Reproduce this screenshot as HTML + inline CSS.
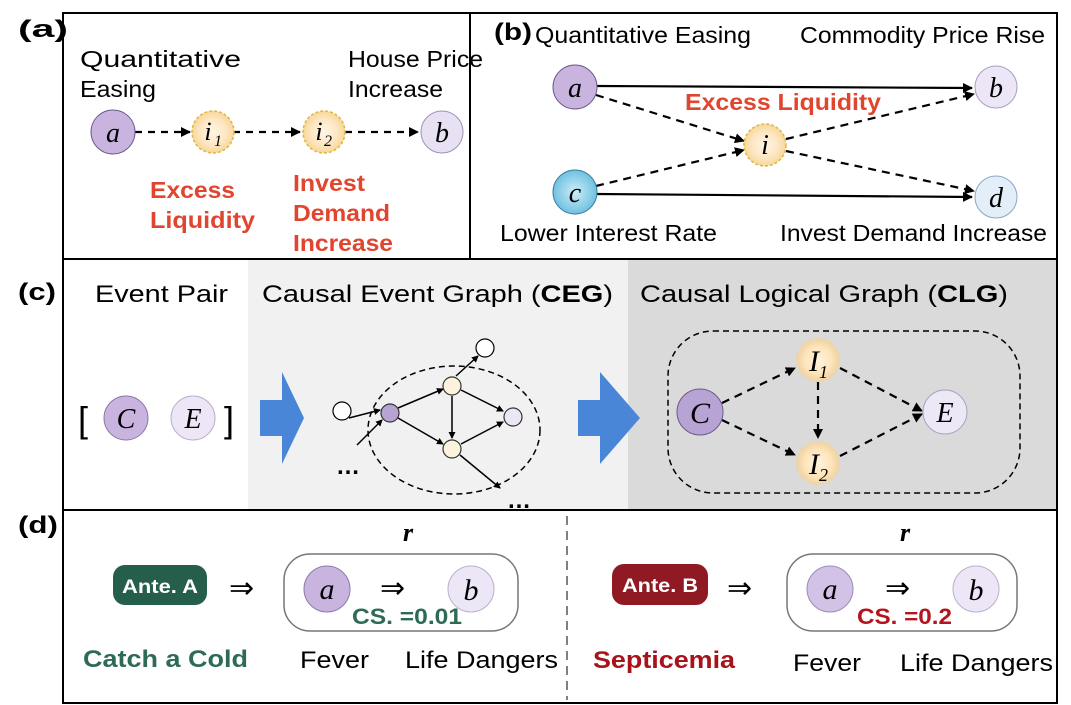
<!DOCTYPE html>
<html><head><meta charset="utf-8"><style>
html,body{margin:0;padding:0;background:#fff;}
svg{display:block;font-family:"Liberation Sans",sans-serif;}
.s{font-family:"Liberation Serif",serif;font-style:italic;}
</style></head><body>
<svg width="1071" height="705" viewBox="0 0 1071 705" xmlns="http://www.w3.org/2000/svg">
<defs>
<marker id="ah" markerWidth="10" markerHeight="10" refX="9" refY="5" orient="auto" markerUnits="userSpaceOnUse"><path d="M0,0 L10,5 L0,10 z" fill="#000"/></marker>
<marker id="sh" markerWidth="7" markerHeight="7" refX="6" refY="3.5" orient="auto" markerUnits="userSpaceOnUse"><path d="M0,0 L7,3.5 L0,7 z" fill="#000"/></marker>
<radialGradient id="gy"><stop offset="0" stop-color="#fff6e6"/><stop offset="0.6" stop-color="#fde7c4"/><stop offset="1" stop-color="#f7d79a"/></radialGradient>
<radialGradient id="gI"><stop offset="0" stop-color="#fff3df"/><stop offset="0.65" stop-color="#fde3b8"/><stop offset="1" stop-color="#f8cf8a" stop-opacity="0.6"/></radialGradient>
<radialGradient id="gb"><stop offset="0" stop-color="#cdeef8"/><stop offset="1" stop-color="#6fc1e0"/></radialGradient>
</defs>
<rect x="248" y="260" width="380" height="250" fill="#f1f1f1"/>
<rect x="628" y="260" width="429" height="250" fill="#dadada"/>
<rect x="63" y="13" width="994" height="690" fill="none" stroke="#000" stroke-width="2"/>
<line x1="470" y1="13" x2="470" y2="259" stroke="#000" stroke-width="2"/>
<line x1="63" y1="259" x2="1057" y2="259" stroke="#000" stroke-width="2"/>
<line x1="63" y1="510" x2="1057" y2="510" stroke="#000" stroke-width="2"/>

<g lengthAdjust="spacingAndGlyphs">
<!-- (a) -->
<text x="18" y="37" font-size="24" font-weight="bold" textLength="50" lengthAdjust="spacingAndGlyphs">(a)</text>
<text x="80" y="67" font-size="23" textLength="161" lengthAdjust="spacingAndGlyphs">Quantitative</text>
<text x="80" y="97" font-size="23" textLength="76" lengthAdjust="spacingAndGlyphs">Easing</text>
<text x="348" y="67" font-size="23" textLength="135" lengthAdjust="spacingAndGlyphs">House Price</text>
<text x="348" y="97" font-size="23" textLength="95" lengthAdjust="spacingAndGlyphs">Increase</text>
<g fill="#e2452f" font-weight="bold" font-size="23">
<text x="150" y="198" textLength="85" lengthAdjust="spacingAndGlyphs">Excess</text>
<text x="150" y="228" textLength="105" lengthAdjust="spacingAndGlyphs">Liquidity</text>
<text x="293" y="191" textLength="72" lengthAdjust="spacingAndGlyphs">Invest</text>
<text x="293" y="221" textLength="97" lengthAdjust="spacingAndGlyphs">Demand</text>
<text x="293" y="251" textLength="100" lengthAdjust="spacingAndGlyphs">Increase</text>
</g>
</g>
<g stroke="#000" stroke-width="2.2" stroke-dasharray="7,6" marker-end="url(#ah)">
<line x1="135" y1="132" x2="190" y2="132"/>
<line x1="233" y1="132" x2="300" y2="132"/>
<line x1="345" y1="132" x2="418" y2="132"/>
</g>
<circle cx="113" cy="132" r="22" fill="#c9b4e0" stroke="#6b5a8a" stroke-width="1"/>
<text x="113" y="142" font-size="28" text-anchor="middle" class="s">a</text>
<circle cx="213" cy="132" r="21" fill="url(#gy)" stroke="#e0b640" stroke-width="1.5" stroke-dasharray="3,2"/>
<text x="208" y="140" font-size="26" class="s" text-anchor="middle">i</text><text x="214" y="146" font-size="16" class="s">1</text>
<circle cx="324" cy="132" r="21" fill="url(#gy)" stroke="#e0b640" stroke-width="1.5" stroke-dasharray="3,2"/>
<text x="319" y="140" font-size="26" class="s" text-anchor="middle">i</text><text x="324" y="146" font-size="16" class="s">2</text>
<circle cx="442" cy="132" r="21" fill="#e8e1f4" stroke="#9c93b8" stroke-width="1"/>
<text x="442" y="142" font-size="28" class="s" text-anchor="middle">b</text>

<!-- (b) -->
<text x="494" y="40" font-size="24" font-weight="bold" textLength="38" lengthAdjust="spacingAndGlyphs">(b)</text>
<text x="535" y="43" font-size="23" textLength="216" lengthAdjust="spacingAndGlyphs">Quantitative Easing</text>
<text x="800" y="43" font-size="23" textLength="245" lengthAdjust="spacingAndGlyphs">Commodity Price Rise</text>
<text x="500" y="241" font-size="23" textLength="217" lengthAdjust="spacingAndGlyphs">Lower Interest Rate</text>
<text x="780" y="241" font-size="23" textLength="267" lengthAdjust="spacingAndGlyphs">Invest Demand Increase</text>
<g stroke="#000" stroke-width="2.2" marker-end="url(#ah)">
<line x1="597" y1="86" x2="972" y2="88"/>
<line x1="597" y1="194" x2="972" y2="197"/>
</g>
<g stroke="#000" stroke-width="2.2" stroke-dasharray="8,6" marker-end="url(#ah)">
<line x1="596" y1="95" x2="744" y2="141"/>
<line x1="596" y1="186" x2="744" y2="150"/>
<line x1="786" y1="139" x2="974" y2="94"/>
<line x1="786" y1="151" x2="974" y2="191"/>
</g>
<circle cx="575" cy="87" r="22" fill="#c9b4e0" stroke="#6b5a8a"/>
<text x="575" y="97" font-size="28" class="s" text-anchor="middle">a</text>
<circle cx="575" cy="192" r="22" fill="url(#gb)" stroke="#3a7fa0"/>
<text x="575" y="202" font-size="28" class="s" text-anchor="middle">c</text>
<circle cx="765" cy="145" r="21" fill="url(#gy)" stroke="#e0b640" stroke-width="1.5" stroke-dasharray="3,2"/>
<text x="765" y="154" font-size="28" class="s" text-anchor="middle">i</text>
<circle cx="996" cy="87" r="21" fill="#ece6f6" stroke="#a8a0c2"/>
<text x="996" y="97" font-size="28" class="s" text-anchor="middle">b</text>
<circle cx="996" cy="197" r="21" fill="#e4eef8" stroke="#8aa8c8"/>
<text x="996" y="207" font-size="28" class="s" text-anchor="middle">d</text>
<text x="685" y="110" font-size="23" font-weight="bold" fill="#e2452f" textLength="196" lengthAdjust="spacingAndGlyphs">Excess Liquidity</text>

<!-- (c) -->
<text x="18" y="300" font-size="24" font-weight="bold" textLength="38" lengthAdjust="spacingAndGlyphs">(c)</text>
<text x="95" y="302" font-size="24" textLength="133" lengthAdjust="spacingAndGlyphs">Event Pair</text>
<text x="262" y="302" font-size="24" textLength="351" lengthAdjust="spacingAndGlyphs">Causal Event Graph (<tspan font-weight="bold">CEG</tspan>)</text>
<text x="640" y="302" font-size="24" textLength="368" lengthAdjust="spacingAndGlyphs">Causal Logical Graph (<tspan font-weight="bold">CLG</tspan>)</text>
<text x="78" y="432" font-size="36">[</text>
<text x="224" y="432" font-size="36">]</text>
<circle cx="126" cy="418" r="22" fill="#c9b4e0" stroke="#8b7aa8"/>
<text x="126" y="428" font-size="28" class="s" text-anchor="middle">C</text>
<circle cx="193" cy="418" r="22" fill="#ece6f6" stroke="#b8b0cc"/>
<text x="193" y="428" font-size="28" class="s" text-anchor="middle">E</text>
<polygon points="260,400 282,400 282,372 304,418 282,464 282,436 260,436" fill="#4a86d8"/>
<polygon points="578,400 600,400 600,372 640,418 600,464 600,436 578,436" fill="#4a86d8"/>
<ellipse cx="454" cy="430" rx="86" ry="64" fill="none" stroke="#000" stroke-width="1.5" stroke-dasharray="6,4"/>
<g stroke="#000" stroke-width="1.5" marker-end="url(#sh)">
<line x1="349" y1="418" x2="380" y2="410"/>
<line x1="357" y1="445" x2="382" y2="420"/>
<line x1="398" y1="408" x2="443" y2="389"/>
<line x1="398" y1="418" x2="443" y2="444"/>
<line x1="452" y1="396" x2="452" y2="438"/>
<line x1="461" y1="390" x2="503" y2="411"/>
<line x1="461" y1="444" x2="503" y2="422"/>
<line x1="456" y1="376" x2="478" y2="356"/>
<line x1="460" y1="455" x2="500" y2="488"/>
</g>
<circle cx="342" cy="411" r="9" fill="#fff" stroke="#000" stroke-width="1.2"/>
<circle cx="485" cy="348" r="9" fill="#fff" stroke="#000" stroke-width="1.2"/>
<circle cx="390" cy="413" r="9" fill="#b8a4d4" stroke="#333" stroke-width="1.2"/>
<circle cx="452" cy="386" r="9" fill="#fbf3dc" stroke="#333" stroke-width="1.2"/>
<circle cx="452" cy="449" r="9" fill="#fbf3dc" stroke="#333" stroke-width="1.2"/>
<circle cx="513" cy="417" r="9" fill="#ece6f6" stroke="#333" stroke-width="1.2"/>
<text x="336" y="474" font-size="24" font-weight="bold">…</text>
<text x="507" y="508" font-size="24" font-weight="bold">…</text>
<rect x="668" y="331" width="352" height="162" rx="45" fill="none" stroke="#000" stroke-width="1.5" stroke-dasharray="6,4"/>
<g stroke="#000" stroke-width="2.2" stroke-dasharray="8,6" marker-end="url(#ah)">
<line x1="722" y1="403" x2="795" y2="368"/>
<line x1="722" y1="420" x2="795" y2="455"/>
<line x1="818" y1="382" x2="818" y2="438"/>
<line x1="840" y1="368" x2="922" y2="411"/>
<line x1="840" y1="456" x2="922" y2="414"/>
</g>
<circle cx="700" cy="412" r="23" fill="#b8a4d4" stroke="#6b5a8a"/>
<text x="700" y="423" font-size="30" class="s" text-anchor="middle">C</text>
<circle cx="818" cy="360" r="22" fill="url(#gI)"/>
<text x="814" y="371" font-size="30" class="s" text-anchor="middle">I</text><text x="819" y="378" font-size="18" class="s">1</text>
<circle cx="818" cy="463" r="22" fill="url(#gI)"/>
<text x="814" y="474" font-size="30" class="s" text-anchor="middle">I</text><text x="819" y="481" font-size="18" class="s">2</text>
<circle cx="945" cy="412" r="22" fill="#ede8f6" stroke="#aaa2c2"/>
<text x="945" y="422" font-size="28" class="s" text-anchor="middle">E</text>

<!-- (d) -->
<text x="18" y="533" font-size="24" font-weight="bold" textLength="40" lengthAdjust="spacingAndGlyphs">(d)</text>
<line x1="567" y1="516" x2="567" y2="700" stroke="#808080" stroke-width="2" stroke-dasharray="9,6"/>
<text x="408" y="541" font-size="26" font-weight="bold" class="s" text-anchor="middle">r</text>
<text x="905" y="541" font-size="26" font-weight="bold" class="s" text-anchor="middle">r</text>
<rect x="113" y="565" width="94" height="40" rx="12" fill="#255e4b"/>
<text x="122" y="593" font-size="19" font-weight="bold" fill="#fff" textLength="76" lengthAdjust="spacingAndGlyphs">Ante. A</text>
<rect x="612" y="564" width="96" height="41" rx="12" fill="#8f1a23"/>
<text x="622" y="592" font-size="19" font-weight="bold" fill="#fff" textLength="76" lengthAdjust="spacingAndGlyphs">Ante. B</text>
<text x="229" y="598" font-size="30">⇒</text>
<text x="727" y="598" font-size="30">⇒</text>
<rect x="284" y="554" width="234" height="77" rx="26" fill="none" stroke="#777" stroke-width="1.5"/>
<rect x="787" y="554" width="230" height="77" rx="26" fill="none" stroke="#777" stroke-width="1.5"/>
<circle cx="327" cy="589" r="23" fill="#c9b4e0" stroke="#8b7aa8"/>
<text x="327" y="599" font-size="30" class="s" text-anchor="middle">a</text>
<circle cx="471" cy="589" r="23" fill="#ece6f6" stroke="#b8b0cc"/>
<text x="471" y="600" font-size="30" class="s" text-anchor="middle">b</text>
<text x="380" y="598" font-size="30">⇒</text>
<circle cx="830" cy="589" r="23" fill="#d2c2e6" stroke="#9c8cb8"/>
<text x="830" y="599" font-size="30" class="s" text-anchor="middle">a</text>
<circle cx="976" cy="589" r="23" fill="#ece6f6" stroke="#b8b0cc"/>
<text x="976" y="600" font-size="30" class="s" text-anchor="middle">b</text>
<text x="885" y="598" font-size="30">⇒</text>
<text x="352" y="624" font-size="22" font-weight="bold" fill="#2d6b54" textLength="110" lengthAdjust="spacingAndGlyphs">CS. =0.01</text>
<text x="857" y="624" font-size="22" font-weight="bold" fill="#b3141d" textLength="95" lengthAdjust="spacingAndGlyphs">CS. =0.2</text>
<text x="83" y="667" font-size="24" font-weight="bold" fill="#2d6b54" textLength="165" lengthAdjust="spacingAndGlyphs">Catch a Cold</text>
<text x="593" y="668" font-size="24" font-weight="bold" fill="#a8121b" textLength="142" lengthAdjust="spacingAndGlyphs">Septicemia</text>
<text x="300" y="668" font-size="24" textLength="69" lengthAdjust="spacingAndGlyphs">Fever</text>
<text x="405" y="668" font-size="24" textLength="153" lengthAdjust="spacingAndGlyphs">Life Dangers</text>
<text x="793" y="671" font-size="24" textLength="68" lengthAdjust="spacingAndGlyphs">Fever</text>
<text x="900" y="671" font-size="24" textLength="153" lengthAdjust="spacingAndGlyphs">Life Dangers</text>
</svg>
</body></html>
